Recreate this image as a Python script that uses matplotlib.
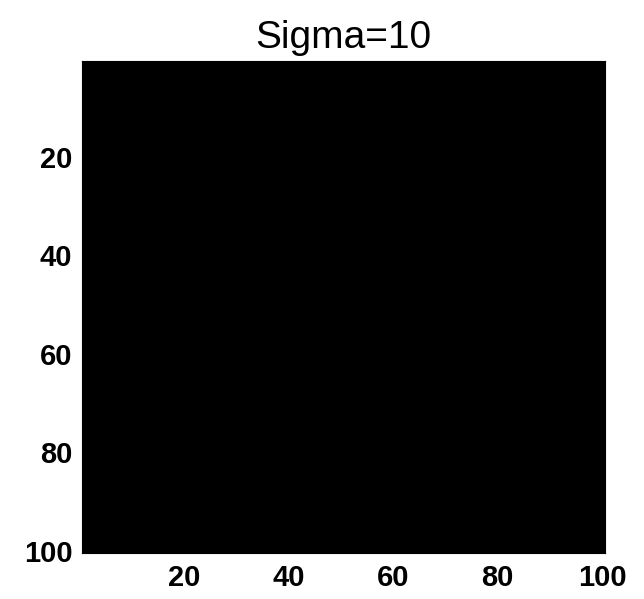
import numpy as np
import matplotlib
matplotlib.use("Agg")
import matplotlib.pyplot as plt

# filtered image (all zeros after smoothing with sigma = 10)
sigma = 10
n_rows, n_cols = 100, 100
image = np.zeros((n_rows, n_cols))
x_ticks = [20, 40, 60, 80, 100]
y_ticks = [20, 40, 60, 80, 100]

fig = plt.figure(figsize=(6.44, 5.99), dpi=100)
ax = fig.add_axes([82 / 644, 1 - 553 / 599, (605 - 82) / 644, (553 - 61) / 599])

ax.imshow(image, cmap="gray", vmin=0, vmax=1, aspect="auto",
          extent=[0.5, n_cols + 0.5, n_rows + 0.5, 0.5], interpolation="nearest")

tick_font = dict(family=["Liberation Sans", "DejaVu Sans"], weight="bold", size=21)
ax.set_xticks(x_ticks)
ax.set_yticks(y_ticks)
ax.set_xticklabels([str(t) for t in x_ticks], **tick_font)
ax.set_yticklabels([str(t) for t in y_ticks], **tick_font)
ax.tick_params(length=0)
ax.tick_params(axis="y", pad=7)
ax.tick_params(axis="x", pad=8)

for s in ax.spines.values():
    s.set_color("black")

ax.set_title(f"Sigma={sigma}", fontsize=28, family=["Liberation Sans", "DejaVu Sans"], pad=9)

fig.savefig("out.png", dpi=100)
